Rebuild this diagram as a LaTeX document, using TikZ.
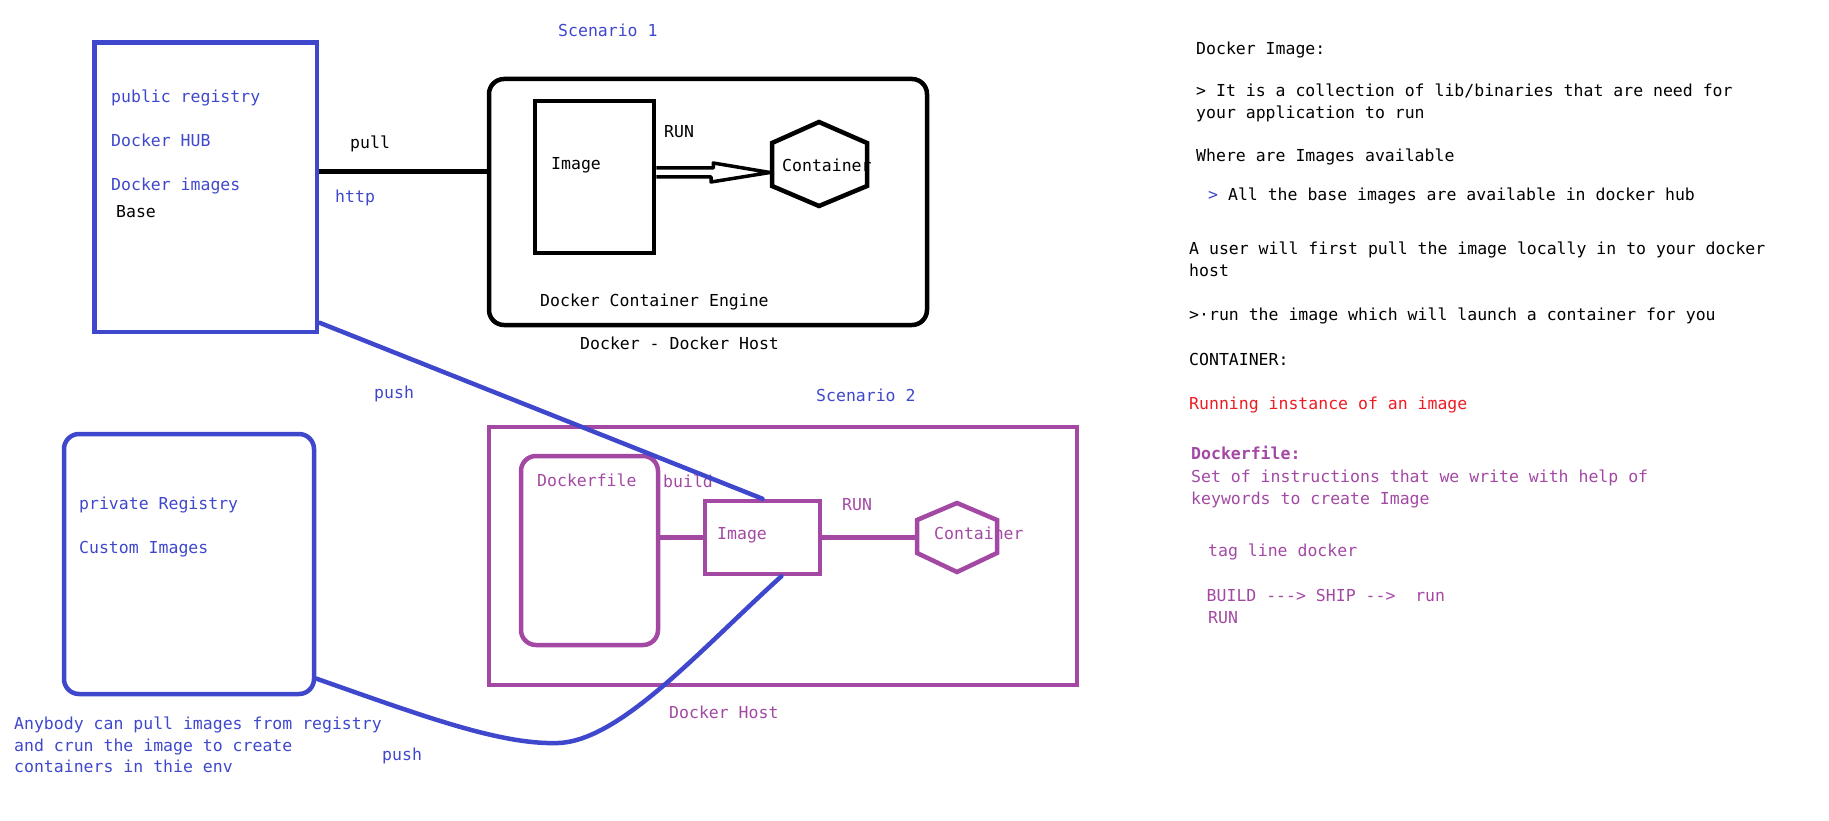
\documentclass[tikz,border=0pt]{standalone}
\usepackage{fontspec}
\setmonofont{DejaVu Sans Mono}
\definecolor{regblue}{RGB}{63,72,204}
\definecolor{hostpurple}{RGB}{163,73,164}
\definecolor{runred}{RGB}{237,28,36}
\tikzset{
  regbox/.style={draw, rectangle, inner sep=0pt, line width=4.5pt},
  lbl/.style={anchor=base west, inner sep=0pt, font=\ttfamily\fontsize{16.5}{20}\selectfont},
  pullline/.style={line width=4.5pt},
  pushline/.style={regblue, line width=4.5pt, line cap=round},
  buildline/.style={hostpurple, line width=4.5pt},
  runarrow/.style={line width=3.5pt, line join=round}
}
\begin{document}
\begin{tikzpicture}[x=1pt,y=-1pt]
\useasboundingbox (0,0) rectangle (1829,821);
% scenario 1
\node[lbl,regblue] (scen1) at (558,37) {Scenario 1};
\node[regbox,draw=regblue,minimum width=222.5,minimum height=289.3] (pub) at (205.75,187.35) {};
\node[lbl,regblue] (pubreg) at (111,102.7) {public registry};
\node[lbl,regblue] (hub) at (111,146.7) {Docker HUB};
\node[lbl,regblue] (pubimg) at (111,190.7) {Docker images};
\node[lbl] (base) at (116,217.7) {Base};
\node[lbl] (pull) at (350,148.3) {pull};
\node[lbl,regblue] (http) at (335,202.7) {http};
\node[regbox,rounded corners=15pt,minimum width=438,minimum height=246] (eng) at (708,202) {};
\node[regbox,minimum width=119,minimum height=152] (img1) at (594.5,177) {};
\node[lbl] (img1txt) at (551,170) {Image};
\node[lbl] (run1) at (664,137.7) {RUN};
\draw[line width=4.5pt] (819,122) -- (867,143) -- (867,186) -- (819,206) -- (772,186) -- (772,143) -- cycle;
\coordinate (hex1) at (770,172.5);
\node[lbl] (cont1) at (782,171.7) {Container};
\node[lbl] (engtxt) at (540,306) {Docker Container Engine};
\node[lbl] (host1txt) at (580,349.3) {Docker - Docker Host};
\draw[pullline] (pub.8) -- (pub.8 -| eng.west);
\draw[runarrow] (img1.east) ++(0,-9) -- ++(57,0) -- ++(0,-5) -- (hex1) -- ++(-59,9.5) -- ++(0,-5) -- (img1.east);
% scenario 2
\node[lbl,regblue] (scen2) at (816,401.7) {Scenario 2};
\node[regbox,draw=hostpurple,minimum width=588,minimum height=258] (host2) at (783,556) {};
\node[regbox,draw=hostpurple,rounded corners=15pt,minimum width=137,minimum height=189] (dfile) at (589.5,550.5) {};
\node[lbl,hostpurple] (dftxt) at (537,486) {Dockerfile};
\node[lbl,hostpurple] (build) at (663,487) {build};
\node[regbox,draw=hostpurple,minimum width=115,minimum height=73] (img2) at (762.5,537.5) {};
\node[lbl,hostpurple] (img2txt) at (717,539) {Image};
\node[lbl,hostpurple] (run2) at (842,510) {RUN};
\draw[hostpurple,line width=4.5pt] (957,503) -- (997,520) -- (997,553) -- (957,572) -- (917,553) -- (917,520) -- cycle;
\coordinate (hex2) at (917,537.5);
\node[lbl,hostpurple] (cont2) at (934,539) {Container};
\node[lbl,hostpurple] (host2txt) at (669,718) {Docker Host};
\draw[buildline] (dfile.east |- img2.west) -- (img2.west);
\draw[buildline] (img2.east) -- (hex2);
% private registry
\node[regbox,draw=regblue,rounded corners=15pt,minimum width=250,minimum height=260] (priv) at (189,564) {};
\node[lbl,regblue] (privtxt) at (79,509.3) {private Registry};
\node[lbl,regblue] (custom) at (79,553.3) {Custom Images};
\node[lbl,regblue] (any1) at (14,729.3) {Anybody can pull images from registry};
\node[lbl,regblue] (any2) at (14,751) {and crun the image to create};
\node[lbl,regblue] (any3) at (14,772.7) {containers in thie env};
\node[lbl,regblue] (push1) at (374,398) {push};
\node[lbl,regblue] (push2) at (382,760.7) {push};
\draw[pushline] (pub.-50) -- (img2.north);
\draw[pushline] (priv.-42) .. controls (420,715) and (500,745) .. (558,743) .. controls (620,741) and (700,650) .. (img2.-64);
% notes
\node[lbl] (di) at (1196,54.6) {Docker Image:};
\node[lbl] (di1) at (1196,96.6) {> It is a collection of lib/binaries that are need for};
\node[lbl] (di2) at (1196,118.8) {your application to run};
\node[lbl] (where) at (1196,162) {Where are Images available};
\node[lbl] (where1) at (1208,200.6) {{\color{regblue}>} All the base images are available in docker hub};
\node[lbl] (user1) at (1189,254.3) {A user will first pull the image locally in to your docker};
\node[lbl] (user2) at (1189,276.5) {host};
\node[lbl] (run3) at (1189,320.9) {>·run the image which will launch a container for you};
\node[lbl] (ctr) at (1189,365.2) {CONTAINER:};
\node[lbl,runred] (inst) at (1189,409.6) {Running instance of an image};
\node[lbl,hostpurple] (df) at (1191,459.9) {\bfseries Dockerfile:};
\node[lbl,hostpurple] (df1) at (1191,482) {Set of instructions that we write with help of};
\node[lbl,hostpurple] (df2) at (1191,504.2) {keywords to create Image};
\node[lbl,hostpurple] (tag) at (1208,556.8) {tag line docker};
\node[lbl,hostpurple] (bsr) at (1206.5,601.2) {BUILD ---> SHIP -->\ \ run};
\node[lbl,hostpurple] (bsr2) at (1208,623.4) {RUN};
\end{tikzpicture}
\end{document}
